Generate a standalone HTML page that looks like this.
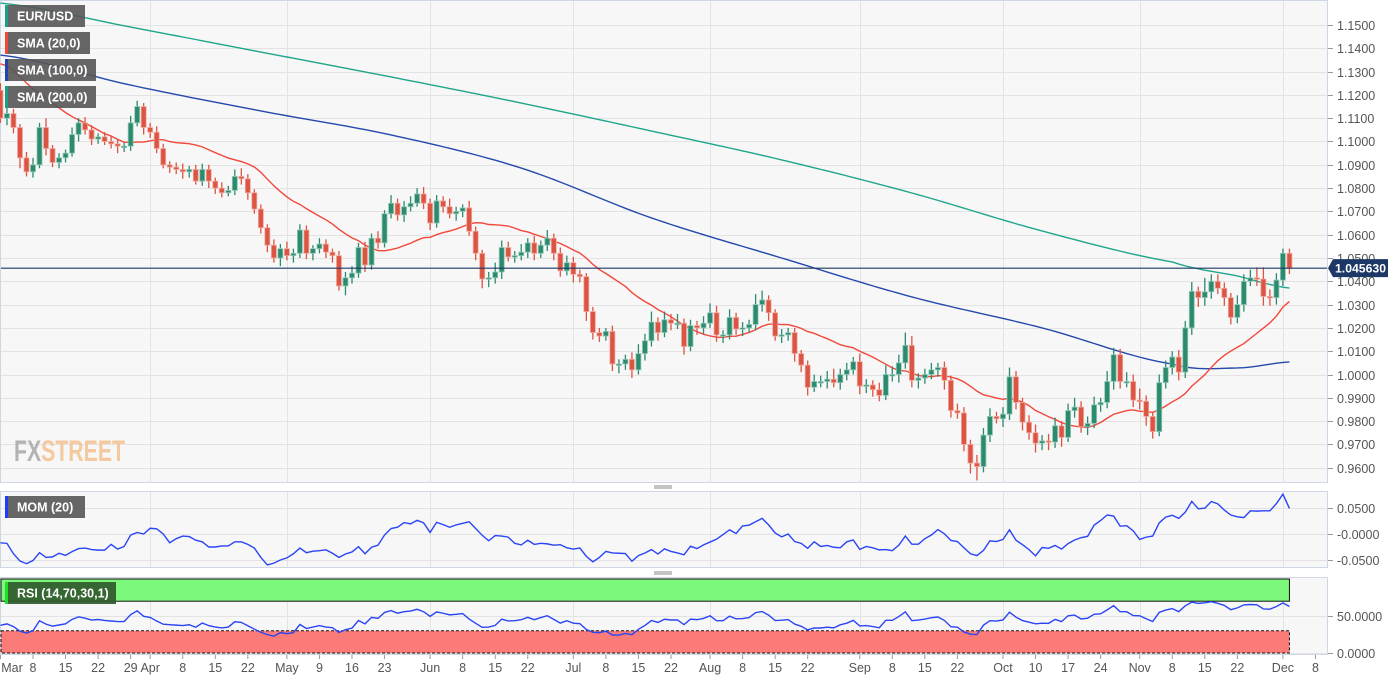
<!DOCTYPE html>
<html><head><meta charset="utf-8"><title>EUR/USD</title>
<style>
html,body{margin:0;padding:0;background:#fff;}
svg{display:block;font-family:"Liberation Sans",sans-serif;}
</style></head>
<body>
<svg id="chart" width="1398" height="680" viewBox="0 0 1398 680" xmlns="http://www.w3.org/2000/svg">
  <rect x="0.5" y="0.5" width="1327" height="482" fill="#f7f7f7" stroke="#cfd6e6"/>
  <rect x="0.5" y="491.5" width="1327" height="76" fill="#f7f7f7" stroke="#cfd6e6"/>
  <rect x="0.5" y="577.5" width="1327" height="77" fill="#f7f7f7" stroke="#cfd6e6"/>
  <g id="grid"></g>
  <text x="14" y="461" font-size="30" font-weight="bold" fill="#a8a8a8" opacity="0.85" textLength="111" lengthAdjust="spacingAndGlyphs">FX<tspan fill="#f4c290">STREET</tspan></text>
  <g id="bands"></g>
  <g id="lines"></g>
  <g id="candles"></g>
  <g id="axes"></g>
  <g><line x1="654" y1="486" x2="672" y2="486" stroke="#888"/><line x1="654" y1="488" x2="672" y2="488" stroke="#888"/></g>
  <g><line x1="654" y1="572" x2="672" y2="572" stroke="#888"/><line x1="654" y1="574" x2="672" y2="574" stroke="#888"/></g>
  <g id="legend">
    <g><rect x="5" y="5" width="80" height="22" fill="#555" opacity="0.9"/><rect x="5" y="5" width="3" height="22" fill="#1a9e85"/><text x="17" y="20.5" font-size="12.5" font-weight="bold" fill="#fff">EUR/USD</text></g>
    <g><rect x="5" y="32" width="85" height="22" fill="#555" opacity="0.9"/><rect x="5" y="32" width="3" height="22" fill="#f04a3a"/><text x="17" y="47.5" font-size="12.5" font-weight="bold" fill="#fff">SMA (20,0)</text></g>
    <g><rect x="5" y="59" width="91" height="22" fill="#555" opacity="0.9"/><rect x="5" y="59" width="3" height="22" fill="#1f46a8"/><text x="17" y="74.5" font-size="12.5" font-weight="bold" fill="#fff">SMA (100,0)</text></g>
    <g><rect x="5" y="86" width="91" height="22" fill="#555" opacity="0.9"/><rect x="5" y="86" width="3" height="22" fill="#1a9e85"/><text x="17" y="101.5" font-size="12.5" font-weight="bold" fill="#fff">SMA (200,0)</text></g>
    <g><rect x="5" y="496" width="80" height="22" fill="#555" opacity="0.9"/><rect x="5" y="496" width="3" height="22" fill="#1e3cff"/><text x="17" y="511.5" font-size="12.5" font-weight="bold" fill="#fff">MOM (20)</text></g>
    <g><rect x="5" y="582" width="111" height="22" fill="#2f5a2c" opacity="0.92"/><rect x="5" y="582" width="3" height="22" fill="#22dd22"/><text x="17" y="597.5" font-size="12.5" font-weight="bold" fill="#fff">RSI (14,70,30,1)</text></g>
  </g>
</svg>
<script>
const priorCloses=[1.127,1.130,1.144,1.145,1.144,1.141,1.142,1.142,1.135,1.130,1.136,1.137,1.136,1.132,1.131,1.133,1.131,1.119,1.127,1.122];
const closes=[
1.110,1.112,1.106,1.093,1.087,1.090,1.106,1.097,1.091,1.093,1.095,1.103,1.108,1.105,1.101,1.102,1.100,1.099,1.098,1.098,
1.108,1.115,1.106,1.104,1.097,1.090,1.089,1.088,1.087,1.088,1.083,1.088,1.083,1.080,1.078,1.079,1.085,1.084,1.078,1.071,
1.063,1.0555,1.050,1.054,1.051,1.052,1.062,1.052,1.054,1.056,1.0525,1.051,1.038,1.0415,1.0435,1.0545,1.047,1.0585,1.0565,1.069,
1.0735,1.0685,1.072,1.0735,1.0775,1.0735,1.065,1.0745,1.072,1.069,1.070,1.0715,1.0615,1.052,1.041,1.0415,1.044,1.0545,1.0505,1.051,
1.0525,1.0565,1.052,1.0555,1.0585,1.052,1.0445,1.048,1.043,1.042,1.027,1.018,1.0165,1.0185,1.0045,1.0045,1.0065,1.002,1.009,1.0145,
1.0225,1.018,1.0235,1.022,1.022,1.012,1.021,1.020,1.022,1.0265,1.017,1.017,1.0245,1.0195,1.020,1.0215,1.030,1.032,1.0265,1.0165,
1.017,1.018,1.009,1.004,0.9945,0.997,0.997,0.998,0.9965,1.000,1.002,1.0055,0.995,0.9955,0.9935,0.991,1.000,1.000,1.005,1.0125,
0.9975,0.9985,1.000,1.002,1.003,0.9975,0.9845,0.9835,0.970,0.962,0.9605,0.974,0.982,0.981,0.983,0.999,0.988,0.9795,0.975,0.9705,
0.9715,0.971,0.978,0.973,0.9845,0.986,0.9775,0.979,0.987,0.988,0.997,1.0085,0.997,0.997,0.989,0.9885,0.982,0.9755,0.9965,1.003,
1.0075,1.001,1.020,1.0357,1.033,1.0355,1.040,1.037,1.033,1.0245,1.030,1.040,1.0415,1.041,1.0335,1.033,1.0405,1.052,1.0456];
const wickUpPips=[
30,25,20,15,25,30,20,40,15,20,15,30,20,25,20,15,20,25,20,15,
30,25,15,20,25,20,15,20,25,15,20,25,20,15,25,20,30,35,20,15,
20,15,25,20,30,20,25,20,15,25,20,15,20,25,30,20,25,20,30,15,
35,20,25,30,25,30,20,25,20,35,20,15,30,20,15,25,40,30,25,20,
35,20,30,20,35,20,25,30,25,20,15,20,20,15,25,20,20,30,40,30,
45,20,35,25,40,20,25,20,30,40,30,20,35,20,25,20,45,40,20,15,
25,20,20,15,20,30,25,35,45,25,30,20,35,25,20,30,40,35,35,55,
40,20,25,30,20,25,20,30,25,20,35,30,35,20,30,40,25,20,30,35,
25,30,35,20,30,40,25,30,35,20,45,30,25,40,30,50,25,20,35,30,
25,30,30,40,20,60,30,30,25,20,40,30,35,45,50,30,30,20,20];
const wickDnPips=[
20,30,25,45,20,25,15,30,20,25,20,15,30,20,25,20,15,20,30,25,
20,15,30,25,20,15,25,20,30,25,15,20,30,25,20,15,20,25,30,20,
25,30,20,35,20,30,20,25,30,20,25,30,20,40,25,20,30,20,25,20,
20,25,30,20,15,25,30,20,25,20,30,25,20,30,40,35,25,30,20,25,
20,25,30,20,25,30,25,20,35,25,40,30,25,20,30,40,25,35,20,30,
25,35,20,30,25,35,20,30,25,20,30,35,20,25,30,20,25,30,35,20,
30,25,35,30,35,20,25,30,20,30,25,20,35,30,30,25,20,30,35,25,
30,35,25,20,30,40,30,25,30,45,60,25,30,20,35,25,30,35,30,40,
30,35,25,40,20,30,25,35,20,30,25,35,30,25,30,35,40,30,20,25,
30,35,25,30,40,35,30,25,35,30,25,30,20,30,40,35,30,25,25];
const firstOpen=1.122;
const smaIdx=[0,20,40,60,80,100,120,140,160,180,190,198];
const sma100Vals=[1.1371,1.1242,1.1131,1.1028,1.0886,1.0672,1.0500,1.0333,1.0200,1.0045,1.0028,1.0054];
const sma200Vals=[1.1594,1.1491,1.1384,1.1277,1.1165,1.1045,1.0921,1.0779,1.0616,1.0483,1.0423,1.0371];
const lastPrice=1.045630;
const priceTicks=[1.15,1.14,1.13,1.12,1.11,1.10,1.09,1.08,1.07,1.06,1.05,1.04,1.03,1.02,1.01,1.00,0.99,0.98,0.97,0.96];
const momTicks=[0.05,0,-0.05];
const momTickLabels=["0.0500","-0.0000","-0.0500"];
const rsiTicks=[50,0];
const rsiTickLabels=["50.0000","0.0000"];
const dateTickLabels=["Mar","8","15","22","29","Apr","8","15","22","May","9","16","23","Jun","8","15","22","Jul","8","15","22","Aug","8","15","22","Sep","8","15","22","Oct","10","17","24","Nov","8","15","22","Dec","8"];
const dateTickIdx=[0,5,10,15,20,23,28,33,38,44,49,54,59,66,71,76,81,88,93,98,103,109,114,119,124,132,137,142,147,154,159,164,169,175,180,185,190,197,202];
const monthStartIdx=[23,44,66,88,109,132,154,175,197];

const NS="http://www.w3.org/2000/svg";
const xI=i=>0.45+6.51*i;
const yP=p=>258+(1.05-p)*2330;
const yM=v=>534-v*520;
const yR=v=>653-v*0.74;
function mk(tag,attrs,parent){const e=document.createElementNS(NS,tag);for(const k in attrs)e.setAttribute(k,attrs[k]);parent.appendChild(e);return e;}
const grid=document.getElementById('grid'),axes=document.getElementById('axes'),lines=document.getElementById('lines'),cg=document.getElementById('candles'),bands=document.getElementById('bands');

priceTicks.forEach(p=>{const y=Math.round(yP(p))+0.5;
  const l=mk('line',{x1:1,x2:1327,y1:y,y2:y,stroke:'#e3e3e3'},grid);
  
  mk('line',{x1:1328,x2:1333,y1:y,y2:y,stroke:'#999'},axes);
  const t=mk('text',{x:1337,y:y+4.5,'font-size':12.5,fill:'#555'},axes);t.textContent=p.toFixed(4);
  });
momTicks.forEach((v,k)=>{const y=Math.round(yM(v))+0.5;
  mk('line',{x1:1,x2:1327,y1:y,y2:y,stroke:'#e3e3e3'},grid);
  mk('line',{x1:1328,x2:1333,y1:y,y2:y,stroke:'#999'},axes);
  const t=mk('text',{x:1337,y:y+4.5,'font-size':12.5,fill:'#555'},axes);t.textContent=momTickLabels[k];
  });
rsiTicks.forEach((v,k)=>{const y=Math.round(yR(v))+0.5;
  mk('line',{x1:1,x2:1327,y1:y,y2:y,stroke:'#e3e3e3'},grid);
  mk('line',{x1:1328,x2:1333,y1:y,y2:y,stroke:'#999'},axes);
  const t=mk('text',{x:1337,y:y+4.5,'font-size':12.5,fill:'#555'},axes);t.textContent=rsiTickLabels[k];
  });
monthStartIdx.forEach(i=>{const x=Math.round(xI(i))+0.5;
  [[1,482],[492,567],[578,654]].forEach(r=>{const l=mk('line',{x1:x,x2:x,y1:r[0],y2:r[1],stroke:'#e3e3e3'},grid);
  });});
dateTickLabels.forEach((lab,k)=>{const x=xI(dateTickIdx[k]);
  mk('line',{x1:x,x2:x,y1:655,y2:659,stroke:'#999'},axes);
  const t=mk('text',{x:k===0?Math.max(x,12):x,y:672,'font-size':12.5,fill:'#555','text-anchor':'middle'},axes);t.textContent=lab;
  });

const gb=mk('rect',{x:1,y:yR(100),width:xI(198)-1,height:yR(70)-yR(100),fill:'#7cf97c',stroke:'#111','stroke-width':1},bands);

const rb=mk('rect',{x:1,y:yR(30),width:xI(198)-1,height:yR(0)-yR(30),fill:'#fa7b78',stroke:'#111','stroke-width':1,'stroke-dasharray':'3,2'},bands);


function interp(idx,vals,i){let k=0;while(k<idx.length-2&&i>idx[k+1])k++;
  const p0=vals[Math.max(k-1,0)],p1=vals[k],p2=vals[k+1],p3=vals[Math.min(k+2,vals.length-1)];
  const t=(i-idx[k])/(idx[k+1]-idx[k]);
  return 0.5*((2*p1)+(-p0+p2)*t+(2*p0-5*p1+4*p2-p3)*t*t+(-p0+3*p1-3*p2+p3)*t*t*t);}
function pathFrom(pts){return pts.map((p,k)=>(k?'L':'M')+p[0].toFixed(2)+','+p[1].toFixed(2)).join('');}
const N=closes.length;
const all=priorCloses.concat(closes);
const P=priorCloses.length;
let s200=[],s100=[],s20=[],mom=[],rsi=[];
for(let i=0;i<N;i++){
  s200.push([xI(i),yP(interp(smaIdx,sma200Vals,i))]);
  s100.push([xI(i),yP(interp(smaIdx,sma100Vals,i))]);
  let s=0,c=0;for(let j=P+i-19;j<=P+i;j++){if(j>=0){s+=all[j];c++;}}
  s20.push([xI(i),yP(s/c)]);
  mom.push([xI(i),yM(all[P+i]-all[P+i-20])]);
}
let ag=0,al=0;for(let j=1;j<=14;j++){const d=all[j]-all[j-1];if(d>0)ag+=d;else al-=d;}ag/=14;al/=14;
for(let j=15;j<all.length;j++){const d=all[j]-all[j-1];ag=(ag*13+Math.max(d,0))/14;al=(al*13+Math.max(-d,0))/14;
  if(j>=P){const v=al===0?100:100-100/(1+ag/al);rsi.push([xI(j-P),yR(v)]);}}
const L=[[s200,'#1fa58b','sma200-line'],[s100,'#2449ad','sma100-line'],[s20,'#f2473b','sma20-line'],[mom,'#2a45f5','mom-line'],[rsi,'#2a45f5','rsi-line']];
L.forEach(a=>{const e=mk('path',{d:pathFrom(a[0]),fill:'none',stroke:a[1],'stroke-width':1.4},lines);
  });

for(let i=0;i<N;i++){
  const o=i?closes[i-1]:firstOpen,c=closes[i];
  const hi=Math.max(o,c)+wickUpPips[i]/10000,lo=Math.min(o,c)-wickDnPips[i]/10000;
  const up=c>=o,col=up?'#2e8a6f':'#dc5442',edge=up?'#8fc9b6':'#f0a9a0';
  const g=mk('g',{},cg);
  
  
  const x=xI(i);
  mk('line',{x1:x,x2:x,y1:yP(hi),y2:yP(lo),stroke:col,'stroke-width':1.3},g);
  const yt=yP(Math.max(o,c)),h=Math.max(yP(Math.min(o,c))-yt,1.5);
  mk('rect',{x:x-2.5,y:yt,width:5,height:h,fill:col,stroke:edge,'stroke-width':0.8},g);
}
const yl=yP(lastPrice);
const pl=mk('line',{x1:1,x2:1327,y1:yl,y2:yl,stroke:'#1d3866','stroke-width':1.2},axes);

const pb=mk('path',{d:`M1328,${yl} L1333,${yl-9} L1388,${yl-9} L1388,${yl+9} L1333,${yl+9} Z`,fill:'#1d3866'},axes);

const pt=mk('text',{x:1335,y:yl+4.5,'font-size':12,'font-weight':'bold',fill:'#fff',textLength:51,lengthAdjust:'spacingAndGlyphs'},axes);pt.textContent=lastPrice.toFixed(6);

</script>
</body></html>
